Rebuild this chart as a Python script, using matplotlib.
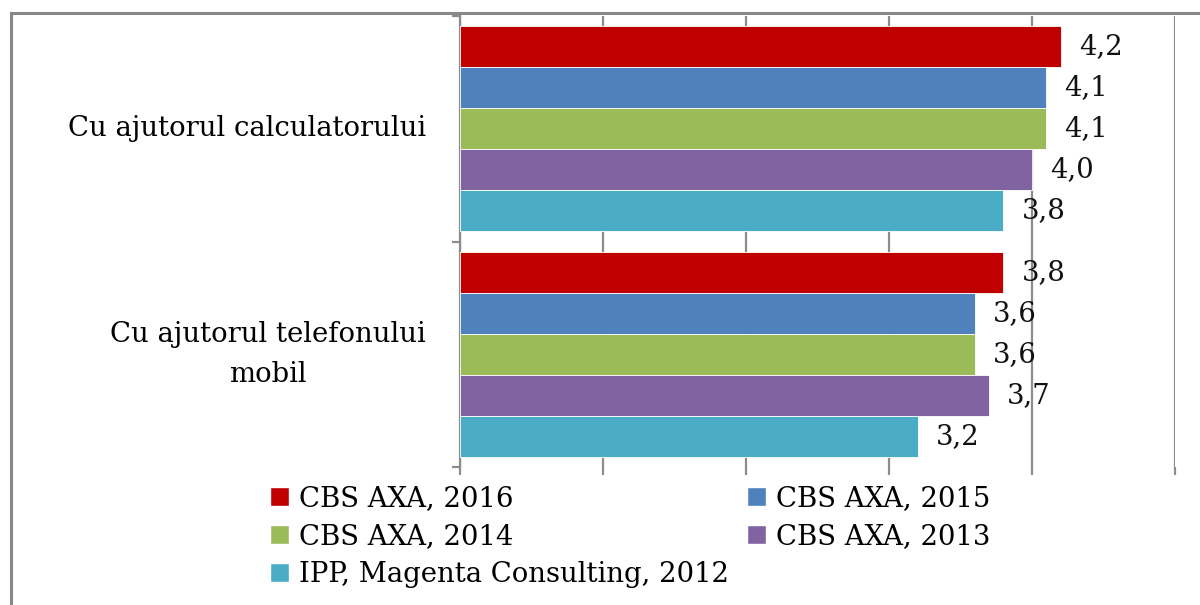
import matplotlib
matplotlib.use("Agg")
import matplotlib.pyplot as plt
from matplotlib.lines import Line2D
from matplotlib.patches import Patch
import numpy as np

categories = ["Cu ajutorul calculatorului", "Cu ajutorul telefonului\nmobil"]
series_names = ["CBS AXA, 2016", "CBS AXA, 2015", "CBS AXA, 2014", "CBS AXA, 2013",
                "IPP, Magenta Consulting, 2012"]
values = {
    "CBS AXA, 2016": [4.2, 3.8],
    "CBS AXA, 2015": [4.1, 3.6],
    "CBS AXA, 2014": [4.1, 3.6],
    "CBS AXA, 2013": [4.0, 3.7],
    "IPP, Magenta Consulting, 2012": [3.8, 3.2],
}
colors = ["#C00000", "#4F81BD", "#9BBB59", "#8064A2", "#4BACC6"]
x_ticks = [0, 1, 2, 3, 4, 5]

plt.rcParams['font.family'] = ['DejaVu Serif']
FS = 19.8

fig = plt.figure(figsize=(12, 6.05), dpi=100)
ax = fig.add_axes([460/1200, 1-467/605, (1175-460)/1200, (467-16)/605])

n = len(series_names)
h = 1.0 / (n + 0.5)
y0 = np.arange(len(categories))
for i, (name, c) in enumerate(zip(series_names, colors)):
    ypos = y0 - (n * h) / 2 + h * (i + 0.5)
    vals = values[name]
    ax.barh(ypos, vals, height=h, color=c, zorder=3, edgecolor='white', linewidth=0.6)
    for y, v in zip(ypos, vals):
        ax.annotate(f"{v:.1f}".replace(".", ","), xy=(v, y), xytext=(13, 0),
                    textcoords="offset points", ha="left", va="center",
                    fontsize=FS, color="#111111")

ax.set_xlim(0, 5)
ax.set_ylim(1.5, -0.5)
ax.set_xticks(x_ticks)
ax.set_xticklabels([])
ax.xaxis.grid(True, color="#8c8c8c", linewidth=1.6, zorder=0)
ax.tick_params(axis='x', length=6, width=1.6, color="#8c8c8c", direction='out')
ax.set_yticks(y0)
ax.set_yticklabels(categories, fontsize=FS)
ax.tick_params(axis='y', which='major', length=0, pad=24.5)
for lbl in ax.get_yticklabels():
    lbl.set_multialignment('center')
    lbl.set_linespacing(1.6)
    lbl.set_verticalalignment('center')
ax.set_yticks([-0.5, 0.5, 1.5], minor=True)
ax.tick_params(axis='y', which='minor', length=6, width=1.6, color="#8c8c8c")
for s in ["top", "right", "bottom"]:
    ax.spines[s].set_visible(False)
ax.spines["left"].set_color("#8c8c8c")
ax.spines["left"].set_linewidth(1.6)

# legend (row-wise order)
order = [0, 2, 4, 1, 3]
handles = [Patch(facecolor=colors[i], edgecolor='white') for i in order]
labels = [series_names[i] for i in order]
fig.legend(handles, labels, loc="upper left", bbox_to_anchor=(259/1200, 1-474/605),
           ncol=2, frameon=False, fontsize=FS, handlelength=0.7, handleheight=0.7,
           handletextpad=0.35, columnspacing=0.65, labelspacing=0.4, borderaxespad=0)

# outer frame (cropped)
fig.add_artist(Line2D([11/1200, 1.0], [1-13/605, 1-13/605], color="#888888", linewidth=2.2,
                      transform=fig.transFigure))
fig.add_artist(Line2D([11/1200, 11/1200], [1-13/605, 0], color="#888888", linewidth=2.2,
                      transform=fig.transFigure))

fig.savefig("out.png", dpi=100, facecolor="white")
